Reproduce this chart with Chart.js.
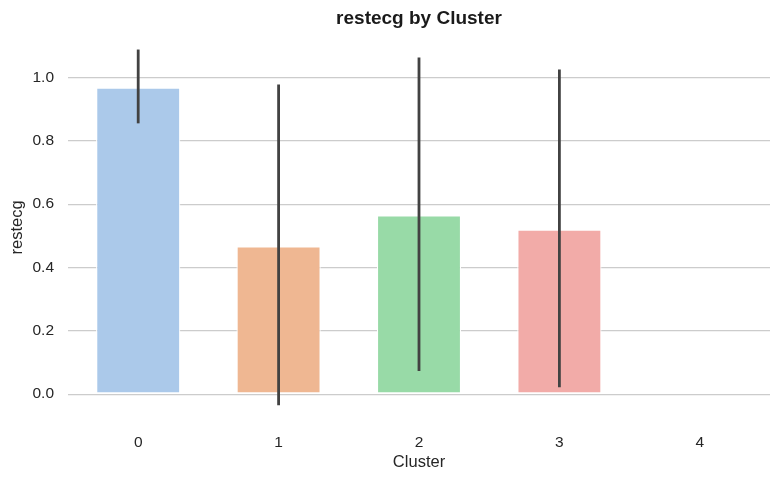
<!DOCTYPE html>
<html>
<head>
<meta charset="utf-8">
<script src="https://cdn.jsdelivr.net/npm/chart.js@4/dist/chart.umd.min.js"></script>
<style>
  html, body { margin: 0; padding: 0; background: #fff; }
  #wrap { width: 780px; height: 480px; }
</style>
</head>
<body>
<div id="wrap"><canvas id="chart"></canvas></div>
<script>
// values
const clusters = ['0', '1', '2', '3', '4'];
const means = [0.968, 0.467, 0.565, 0.520, 0.0];
const ciLow = [0.855, -0.035, 0.073, 0.022, 0.0];
const ciHigh = [1.088, 0.978, 1.063, 1.025, 0.0];
const yTicks = [0, 0.2, 0.4, 0.6, 0.8, 1.0];

// seaborn pastel, desaturated
const barColors = ['#abc9ea', '#efb792', '#98daa7', '#f2aba8', '#c8b9e8'];

const fontFamily = '"Liberation Sans", Arial, sans-serif';

// draws the error bars from ciLow / ciHigh
const errorBars = {
    id: 'errorBars',
    afterDatasetsDraw(chart) {
        const ctx = chart.ctx;
        const x = chart.scales.x;
        const y = chart.scales.y;
        ctx.save();
        ctx.strokeStyle = '#424242';
        ctx.lineWidth = 2.8;
        ctx.lineCap = 'butt';
        clusters.forEach((c, i) => {
            if (ciLow[i] === ciHigh[i]) return;
            const px = x.getPixelForValue(i);
            ctx.beginPath();
            ctx.moveTo(px, y.getPixelForValue(ciLow[i]));
            ctx.lineTo(px, y.getPixelForValue(ciHigh[i]));
            ctx.stroke();
        });
        ctx.restore();
    }
};

new Chart(document.getElementById('chart').getContext('2d'), {
    type: 'bar',
    data: {
        labels: clusters,
        datasets: [{
            label: 'restecg',
            data: means,
            backgroundColor: barColors,
            borderColor: '#ffffff',
            borderWidth: 1.2,
            borderSkipped: false,
            barPercentage: 0.6,
            categoryPercentage: 1.0
        }]
    },
    options: {
        responsive: true,
        maintainAspectRatio: false,
        animation: false,
        layout: { padding: { left: 8, right: 10, top: 0, bottom: 8 } },
        plugins: {
            legend: { display: false },
            tooltip: { enabled: false },
            title: {
                display: true,
                text: 'restecg by Cluster',
                fullSize: false,
                color: '#1a1a1a',
                font: { family: fontFamily, size: 19, weight: 'bold' },
                padding: { top: 7, bottom: 2 }
            }
        },
        scales: {
            x: {
                afterFit(scale) {
                    scale.height = 49;
                },
                grid: { display: false, drawTicks: false },
                border: { display: false },
                ticks: { color: '#262626', font: { family: fontFamily, size: 15.5 }, padding: 10 },
                title: {
                    display: true,
                    text: 'Cluster',
                    color: '#262626',
                    font: { family: fontFamily, size: 16.5 },
                    padding: { top: 0, bottom: 0 }
                }
            },
            y: {
                min: -0.091,
                max: 1.144,
                afterBuildTicks(scale) {
                    scale.ticks = yTicks.map(v => ({ value: v }));
                },
                afterFit(scale) {
                    scale.width = 60;
                },
                grid: { color: '#cccccc', lineWidth: 1.2, drawTicks: false },
                border: { display: false },
                ticks: {
                    color: '#262626',
                    font: { family: fontFamily, size: 15.5 },
                    padding: 14,
                    callback: v => v.toFixed(1)
                },
                title: {
                    display: true,
                    text: 'restecg',
                    color: '#262626',
                    font: { family: fontFamily, size: 16.5 },
                    padding: { top: 0, bottom: 0 }
                }
            }
        }
    },
    plugins: [errorBars]
});
</script>
</body>
</html>
